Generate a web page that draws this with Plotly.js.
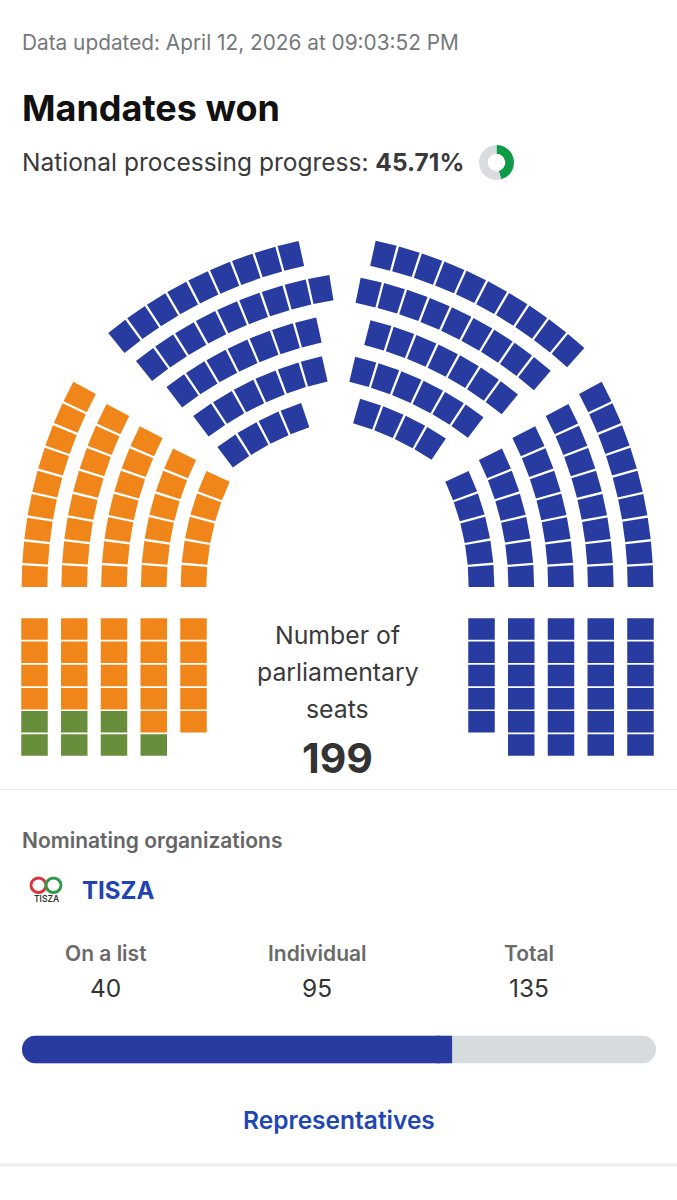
<!DOCTYPE html>
<html><head><meta charset="utf-8">
<script src="https://cdn.plot.ly/plotly-3.0.1.min.js"></script>
<style>html,body{margin:0;padding:0;background:#fff;overflow:hidden}#chart{width:677px;height:1200px}</style>
</head><body><div id="chart"></div>
<script>
// ------------------ data ------------------
const updatedText = 'Data updated: April 12, 2026 at 09:03:52 PM';
const chartTitle = 'Mandates won';
const progressLabel = 'National processing progress:';
const progressPercent = [45.71];
const partyNames = ['MI HAZÁNK', 'FIDESZ-KDNP', 'TISZA'];   // seating order, left to right
const partySeats = [7, 57, 135];
const leftBlockSeats = [6, 6, 6, 6, 5];     // vertical columns, outer -> inner
const leftArcSeats = [9, 8, 7, 6, 5];       // arc rows, outer -> inner
const topLeftSeats = [9, 9, 7, 6, 4];
const topRightSeats = [10, 9, 7, 6, 4];
const rightArcSeats = [9, 8, 7, 6, 5];
const rightBlockSeats = [6, 6, 6, 6, 5];    // vertical columns, outer -> inner
const seatsLabel = ['Number of', 'parliamentary', 'seats'];
const orgName = 'TISZA';
const statLabels = ['On a list', 'Individual', 'Total'];
const statValues = [40, 95, 135];
const linkText = 'Representatives';

// ------------------ styles / geometry ------------------
const partyColors = ['#688e3b', '#f0861a', '#273ba0'];
const AX = 337.5;
const pitch = 23.3, seatLen = 21, depth = 25.7;
const colW = 26.5, colH = 21.5, colPitchY = 23.2, colX0 = 34.5, colStep = 39.75, rowY0 = 618.3;
const sideCY = 587, sideCX = 455, sideR0 = 420.5, sideStep = 39.75;
const topCY = 687, topCX = 397, topR0 = 444, topStep = 39.25;
const tlStartDeg = [127.85, 127.2, 125.9, 125.1, 124.7];
const trStartDeg = [76.3, 77.1, 74.2, 75.0, 72.0];
const D2R = Math.PI / 180;

function rectSeat(cx, top) {
  return [[cx - colW/2, top], [cx + colW/2, top], [cx + colW/2, top + colH], [cx - colW/2, top + colH]];
}
function arcSeat(cx, cy, r, th) {
  const hw = (seatLen / 2) / r, ro = r + depth / 2, ri = r - depth / 2, pts = [];
  for (let t = -1; t <= 1; t++) pts.push([cx + ro * Math.cos(th + t * hw), cy - ro * Math.sin(th + t * hw)]);
  for (let t = 1; t >= -1; t--) pts.push([cx + ri * Math.cos(th + t * hw), cy - ri * Math.sin(th + t * hw)]);
  return pts;
}

const seats = [];
// left block: filled row by row from the bottom
const maxRows = Math.max(...leftBlockSeats);
for (let k = maxRows - 1; k >= 0; k--)
  for (let j = 0; j < leftBlockSeats.length; j++)
    if (k < leftBlockSeats[j]) seats.push(rectSeat(colX0 + j * colStep, rowY0 + k * colPitchY));
// left arcs
leftArcSeats.forEach((n, i) => {
  const r = sideR0 - i * sideStep;
  for (let k = 0; k < n; k++) seats.push(arcSeat(sideCX, sideCY, r, Math.PI - (k * pitch + seatLen / 2) / r));
});
// top left
topLeftSeats.forEach((n, i) => {
  const r = topR0 - i * topStep;
  for (let k = 0; k < n; k++) seats.push(arcSeat(topCX, topCY, r, tlStartDeg[i] * D2R - k * pitch / r));
});
// top right
topRightSeats.forEach((n, i) => {
  const r = topR0 - i * topStep;
  for (let k = 0; k < n; k++) seats.push(arcSeat(2 * AX - topCX, topCY, r, trStartDeg[i] * D2R - k * pitch / r));
});
// right arcs
rightArcSeats.forEach((n, i) => {
  const r = sideR0 - i * sideStep;
  for (let k = 0; k < n; k++) seats.push(arcSeat(2 * AX - sideCX, sideCY, r, (k * pitch + seatLen / 2) / r));
});
// right block
for (let k = 0; k < maxRows; k++)
  for (let j = 0; j < rightBlockSeats.length; j++)
    if (k < rightBlockSeats[j]) seats.push(rectSeat(2 * AX - (colX0 + j * colStep), rowY0 + k * colPitchY));

const traces = [];
let idx = 0;
partySeats.forEach((count, p) => {
  const xs = [], ys = [];
  for (let s = 0; s < count; s++, idx++) {
    seats[idx].forEach(pt => { xs.push(pt[0]); ys.push(pt[1]); });
    xs.push(null); ys.push(null);
  }
  traces.push({type: 'scatter', mode: 'lines', x: xs, y: ys, fill: 'toself', fillcolor: partyColors[p],
    line: {width: 0, color: partyColors[p]}, name: partyNames[p], hoverinfo: 'name', showlegend: false});
});
const totalSeats = partySeats.reduce((a, b) => a + b, 0);

// progress donut
traces.push({type: 'pie', values: [progressPercent[0], 100 - progressPercent[0]], marker: {colors: ['#0f9a47', '#d8dcde']},
  hole: 0.5, sort: false, direction: 'clockwise', rotation: 0, textinfo: 'none', hoverinfo: 'skip', showlegend: false,
  domain: {x: [(496.5 - 17.5) / 677, (496.5 + 17.5) / 677], y: [(1200 - 162.5 - 17.5) / 1200, (1200 - 162.5 + 17.5) / 1200]}});

// seat share bar (track, rounded share, square end of share)
const orgTotal = statValues[2];
const capUnits = totalSeats * 16 / 634;
traces.push({type: 'bar', orientation: 'h', y: [0], x: [totalSeats], base: [0], width: 1,
  marker: {color: '#d6dbdd', cornerradius: 14}, xaxis: 'x2', yaxis: 'y2', hoverinfo: 'skip', showlegend: false});
traces.push({type: 'bar', orientation: 'h', y: [0], x: [-orgTotal], base: [orgTotal], width: 1,
  marker: {color: '#273ba0', cornerradius: 14}, xaxis: 'x2', yaxis: 'y2', hoverinfo: 'skip', showlegend: false});
traces.push({type: 'bar', orientation: 'h', y: [0], x: [capUnits], base: [orgTotal - capUnits], width: 1,
  marker: {color: '#273ba0'}, xaxis: 'x2', yaxis: 'y2', hoverinfo: 'skip', showlegend: false});

const F = 'Inter, Roboto, sans-serif';
function ann(text, x, y, size, color, weight, xanchor) {
  return {text: text, x: x, y: y, xref: 'x', yref: 'y', xanchor: xanchor || 'left', yanchor: 'middle',
    showarrow: false, font: {family: F, size: size, color: color, weight: weight || 400}};
}
const annotations = [
  ann(updatedText, 20, 42, 20.8, '#74787b'),
  ann(chartTitle, 20, 108, 36, '#111111', 700),
  ann(progressLabel + ' <b>' + progressPercent[0].toFixed(2) + '%</b>', 20, 162, 24.5, '#3a3a3a'),
  ann(seatsLabel[0], AX, 635, 24.8, '#3a3a3a', 400, 'center'),
  ann(seatsLabel[1], AX, 672, 24.8, '#3a3a3a', 400, 'center'),
  ann(seatsLabel[2], AX, 709, 24.8, '#3a3a3a', 400, 'center'),
  ann(String(totalSeats), AX, 758, 41, '#333333', 700, 'center'),
  ann('Nominating organizations', 20, 840, 21, '#666666', 600),
  ann(orgName, 46, 899, 8.5, '#333333', 600, 'center'),
  ann(orgName, 80, 890, 24, '#2243b0', 700),
  ann(linkText, 338.5, 1120, 24.5, '#1f47b3', 600, 'center')
];
statLabels.forEach((l, i) => {
  annotations.push(ann(l, 105.75 + i * 211.5, 953, 21, '#6a6a6a', 600, 'center'));
  annotations.push(ann(String(statValues[i]), 105.75 + i * 211.5, 988, 24.5, '#333333', 400, 'center'));
});

const shapes = [
  {type: 'line', xref: 'x', yref: 'y', x0: 0, x1: 677, y0: 789.5, y1: 789.5, line: {color: '#e6e6e6', width: 1}},
  {type: 'line', xref: 'x', yref: 'y', x0: 0, x1: 677, y0: 1165, y1: 1165, line: {color: '#ececec', width: 3}},
  {type: 'circle', xref: 'x', yref: 'y', x0: 31, x1: 46, y0: 878, y1: 892.5, line: {color: '#d9343c', width: 2.8}},
  {type: 'circle', xref: 'x', yref: 'y', x0: 46, x1: 61, y0: 878, y1: 892.5, line: {color: '#2e9a48', width: 2.8}}
];

const layout = {
  width: 677, height: 1200, margin: {l: 0, r: 0, t: 0, b: 0}, paper_bgcolor: '#ffffff', plot_bgcolor: '#ffffff',
  barmode: 'overlay', showlegend: false,
  xaxis: {range: [0, 677], visible: false, fixedrange: true},
  yaxis: {range: [1200, 0], visible: false, fixedrange: true},
  xaxis2: {domain: [22 / 677, 656 / 677], range: [0, totalSeats], visible: false, anchor: 'y2', fixedrange: true},
  yaxis2: {domain: [(1200 - 1063.5) / 1200, (1200 - 1035.5) / 1200], range: [-0.5, 0.5], visible: false, anchor: 'x2', fixedrange: true},
  annotations: annotations, shapes: shapes
};
Plotly.newPlot('chart', traces, layout, {displayModeBar: false, staticPlot: true});
</script></body></html>
